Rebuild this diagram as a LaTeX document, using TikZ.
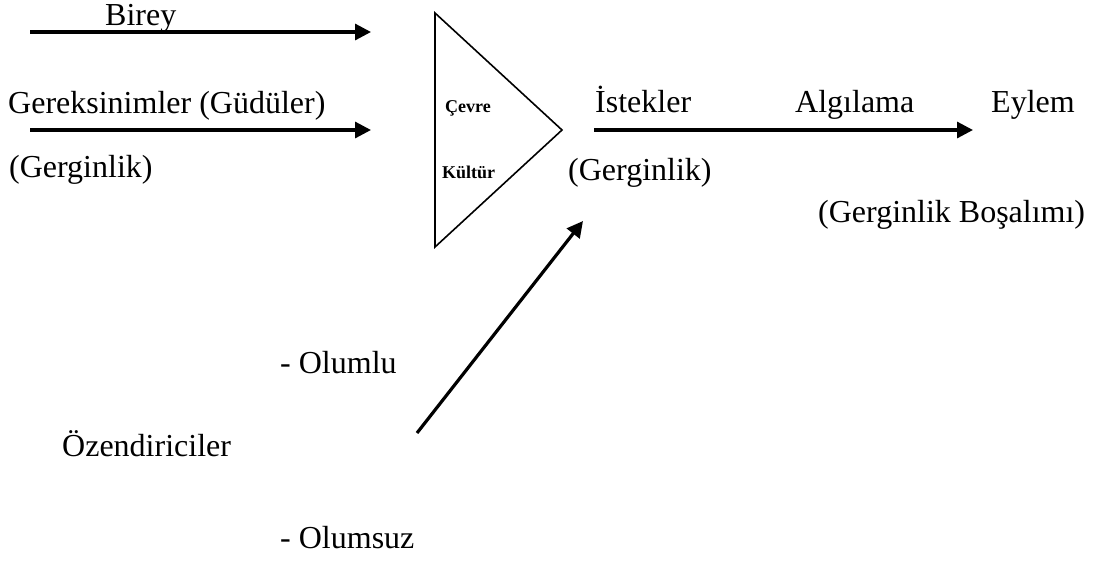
\documentclass[tikz,border=0pt]{standalone}
\usepackage{fontspec}
\setmainfont{Liberation Serif}
\usetikzlibrary{arrows.meta}
\begin{document}
\begin{tikzpicture}[x=1pt,y=-1pt,
  lbl/.style={anchor=base west,inner sep=0pt,font=\fontsize{32}{38}\selectfont},
  blbl/.style={anchor=base west,inner sep=0pt,font=\fontsize{18}{22}\selectfont\bfseries},
  arr/.style={line width=3.2pt,-{Triangle[length=16pt,width=16pt]}},
  tri/.style={line width=1.6pt,line join=miter}]
\useasboundingbox (0,0) rectangle (1098,560);
% left arrows
\coordinate (a1s) at (30,32);
\coordinate (a1e) at (371,32);
\coordinate (a2s) at (30,130);
\coordinate (a2e) at (371,130);
\draw[arr] (a1s) -- (a1e);
\draw[arr] (a2s) -- (a2e);
\node[lbl] (birey) at (105,25) {Birey};
\node[lbl] (gerek) at (8,113) {Gereksinimler (Güdüler)};
\node[lbl] (gerg1) at (9,177) {(Gerginlik)};
% triangle
\coordinate (t1) at (435,13);
\coordinate (t2) at (562,130);
\coordinate (t3) at (435,247);
\draw[tri] (t1) -- (t2) -- (t3) -- cycle;
\node[blbl] (cevre) at (445,112) {Çevre};
\node[blbl] (kultur) at (442,178) {Kültür};
% right
\coordinate (a3s) at (594,130);
\coordinate (a3e) at (973,130);
\draw[arr] (a3s) -- (a3e);
\node[lbl] (istek) at (595,112) {İstekler};
\node[lbl] (algi) at (795,112) {Algılama};
\node[lbl] (eylem) at (991,112) {Eylem};
\node[lbl] (gerg2) at (568,180) {(Gerginlik)};
\node[lbl] (bosal) at (818,222) {(Gerginlik Boşalımı)};
% diagonal
\coordinate (ds) at (417,433);
\coordinate (de) at (583,221);
\draw[arr] (ds) -- (de);
\node[lbl] (olumlu) at (280,373) {- Olumlu};
\node[lbl] (ozend) at (62,456) {Özendiriciler};
\node[lbl] (olumsuz) at (280,548) {- Olumsuz};
\end{tikzpicture}
\end{document}
